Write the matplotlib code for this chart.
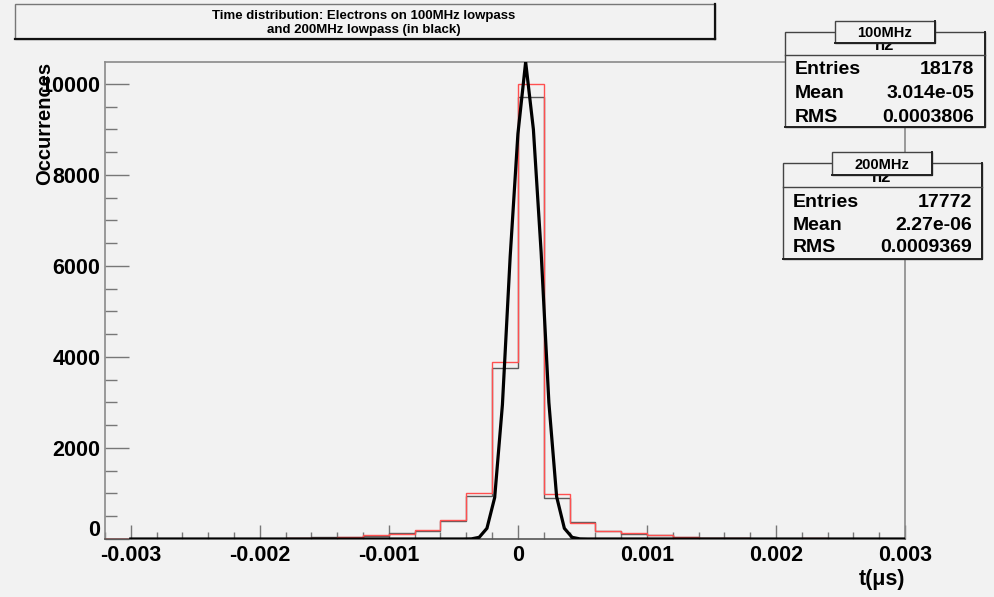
import matplotlib
matplotlib.use("Agg")
import matplotlib.pyplot as plt
from matplotlib.patches import Rectangle
from matplotlib.lines import Line2D
from matplotlib.ticker import FixedLocator, FixedFormatter, MultipleLocator

plt.rcParams['font.family'] = ['Liberation Sans', 'DejaVu Sans']
plt.rcParams['font.weight'] = 'bold'

# ---------------- data ----------------
bin_edges = [-0.0032, -0.0030, -0.0028, -0.0026, -0.0024, -0.0022, -0.0020, -0.0018,
             -0.0016, -0.0014, -0.0012, -0.0010, -0.0008, -0.0006, -0.0004, -0.0002,
             0.0000, 0.0002, 0.0004, 0.0006, 0.0008, 0.0010, 0.0012, 0.0014,
             0.0016, 0.0018, 0.0020, 0.0022, 0.0024, 0.0026, 0.0028, 0.0030]

# 100MHz lowpass (red)
counts_100 = [0, 0, 0, 0, 0, 8, 8, 22, 30, 40, 88, 110, 198, 411, 1004, 3895,
              9994, 982, 360, 170, 139, 88, 45, 30, 22, 10, 10, 20, 5, 3, 3]
# 200MHz lowpass (black)
counts_200 = [0, 0, 0, 0, 0, 6, 6, 15, 44, 51, 60, 125, 180, 400, 950, 3762,
              9708, 908, 367, 183, 110, 80, 51, 30, 15, 10, 10, 8, 5, 3, 3]

# fitted curve (polyline vertices)
curve_t = [-0.003, -0.00042, -0.00036, -0.0003, -0.00024, -0.00018, -0.00012, -0.00006,
           0.0, 0.00006, 0.00012, 0.00018, 0.00024, 0.0003, 0.00036, 0.00042,
           0.00048, 0.00054, 0.003]
curve_v = [0, 0, 3, 37, 235, 910, 2950, 6200,
           8900, 10480, 9000, 6300, 3000, 930, 235, 37,
           3, 0, 0]

xtick_vals = [-0.003, -0.002, -0.001, 0.0, 0.001, 0.002, 0.003]
xtick_labels = ["-0.003", "-0.002", "-0.001", "0", "0.001", "0.002", "0.003"]
ytick_vals = [0, 2000, 4000, 6000, 8000, 10000]
ytick_labels = ["0", "2000", "4000", "6000", "8000", "10000"]

title_lines = ["Time distribution: Electrons on 100MHz lowpass",
               "and 200MHz lowpass (in black)"]
x_label = "t(μs)"
y_label = "Occurrences"

stats_100 = {"name": "100MHz", "hist": "h2",
             "rows": [("Entries", "18178"), ("Mean", "3.014e-05"), ("RMS", "0.0003806")]}
stats_200 = {"name": "200MHz", "hist": "h2",
             "rows": [("Entries", "17772"), ("Mean", "2.27e-06"), ("RMS", "0.0009369")]}

# ---------------- figure ----------------
W, H = 995, 597
BG = '#f2f2f2'
fig = plt.figure(figsize=(W / 100, H / 100), dpi=100, facecolor=BG)


def fx(px):
    return px / W


def fy(py):
    return 1 - py / H


ax_l, ax_r, ax_t, ax_b = 105, 905, 62, 539
ax = fig.add_axes([fx(ax_l), fy(ax_b), (ax_r - ax_l) / W, (ax_b - ax_t) / H])
ax.set_facecolor(BG)
ax.set_xlim(-0.0032, 0.003)
ax.set_ylim(0, 10480)

ax.stairs(counts_100, bin_edges, color='#ff5050', lw=1.0, zorder=3)
ax.stairs(counts_200, bin_edges, color='#5a5a5a', lw=1.0, zorder=2)
ax.plot(curve_t, curve_v, color='black', lw=2.3, zorder=4, solid_joinstyle='miter')

for s in ['left', 'top', 'right']:
    ax.spines[s].set_color('#8a8a8a')
    ax.spines[s].set_linewidth(1.2)
ax.spines['bottom'].set_color('#555555')
ax.spines['bottom'].set_linewidth(1.2)

ax.xaxis.set_major_locator(FixedLocator(xtick_vals))
ax.xaxis.set_major_formatter(FixedFormatter(xtick_labels))
ax.xaxis.set_minor_locator(MultipleLocator(0.0002))
ax.yaxis.set_major_locator(FixedLocator(ytick_vals))
ax.yaxis.set_major_formatter(FixedFormatter([""] + ytick_labels[1:]))
ax.yaxis.set_minor_locator(MultipleLocator(500))

ax.tick_params(axis='both', which='both', direction='in', colors='#777777', width=1.0,
               labelcolor='black', labelsize=15.5, top=False, right=False)
ax.tick_params(axis='y', which='major', length=17.3, pad=3.5)
ax.tick_params(axis='y', which='minor', length=8.6)
ax.tick_params(axis='x', which='major', length=10.4, pad=4.5)
ax.tick_params(axis='x', which='minor', length=5.4)
for lab in ax.get_xticklabels() + ax.get_yticklabels():
    lab.set_fontweight('bold')

# y "0" label sits slightly raised, as in the original
fig.text(fx(100), fy(531), ytick_labels[0], ha='right', va='center',
         fontsize=15.5, fontweight='bold')

fig.text(fx(905), fy(579), x_label, ha='right', va='center', fontsize=15.5,
         fontweight='bold')
fig.text(fx(45), fy(62), y_label, rotation=90, ha='center', va='top', fontsize=14.5,
         fontweight='bold')

# ---------------- title box ----------------
def box(x0, y0, x1, y1, edge='#777777', shadow='#111111', lw=1.0, slw=1.6, z=5):
    fig.add_artist(Rectangle((fx(x0), fy(y1)), fx(x1 - x0), (y1 - y0) / H,
                             transform=fig.transFigure, facecolor=BG, edgecolor=edge,
                             lw=lw, zorder=z))
    fig.add_artist(Line2D([fx(x0), fx(x1)], [fy(y1), fy(y1)], color=shadow, lw=slw,
                          zorder=z + 0.1, transform=fig.transFigure))
    fig.add_artist(Line2D([fx(x1), fx(x1)], [fy(y0), fy(y1)], color=shadow, lw=slw,
                          zorder=z + 0.1, transform=fig.transFigure))


box(15, 4, 715, 39)
fig.text(fx(364), fy(19), title_lines[0], ha='center', va='baseline', fontsize=9.5,
         fontweight='bold', zorder=6)
fig.text(fx(364), fy(33), title_lines[1], ha='center', va='baseline', fontsize=9.5,
         fontweight='bold', zorder=6)

# ---------------- stats boxes ----------------
def stats_box(st, x0, y0, x1, y1, yh, lab_box, row_ys, xl, xr):
    box(x0, y0, x1, y1, edge='#444444', shadow='#222222', lw=1.0, slw=1.4, z=5)
    fig.add_artist(Line2D([fx(x0), fx(x1)], [fy(yh), fy(yh)], color='#444444', lw=1.0,
                          zorder=5.2, transform=fig.transFigure))
    cx = (lab_box[0] + lab_box[2]) / 2
    fig.text(fx(cx), fy(lab_box[3] + 2), st["hist"], ha='center', va='center',
             fontsize=12, fontweight='bold', zorder=5.3)
    box(*lab_box, edge='#444444', shadow='#222222', lw=1.0, slw=1.4, z=6)
    fig.text(fx(cx), fy((lab_box[1] + lab_box[3]) / 2 + 1), st["name"], ha='center',
             va='center', fontsize=10.5, fontweight='bold', zorder=7)
    for (k, v), yy in zip(st["rows"], row_ys):
        fig.text(fx(xl), fy(yy), k, ha='left', va='center', fontsize=14,
                 fontweight='bold', zorder=7)
        fig.text(fx(xr), fy(yy), v, ha='right', va='center', fontsize=14,
                 fontweight='bold', zorder=7)


stats_box(stats_100, 785, 32, 985, 127, 55, (835, 21, 935, 43), [70, 94, 117], 795, 974)
stats_box(stats_200, 783, 163, 982, 259, 187, (832, 152, 932, 175), [202, 225, 248], 793, 972)

fig.savefig("out.png", dpi=100, facecolor=BG)
